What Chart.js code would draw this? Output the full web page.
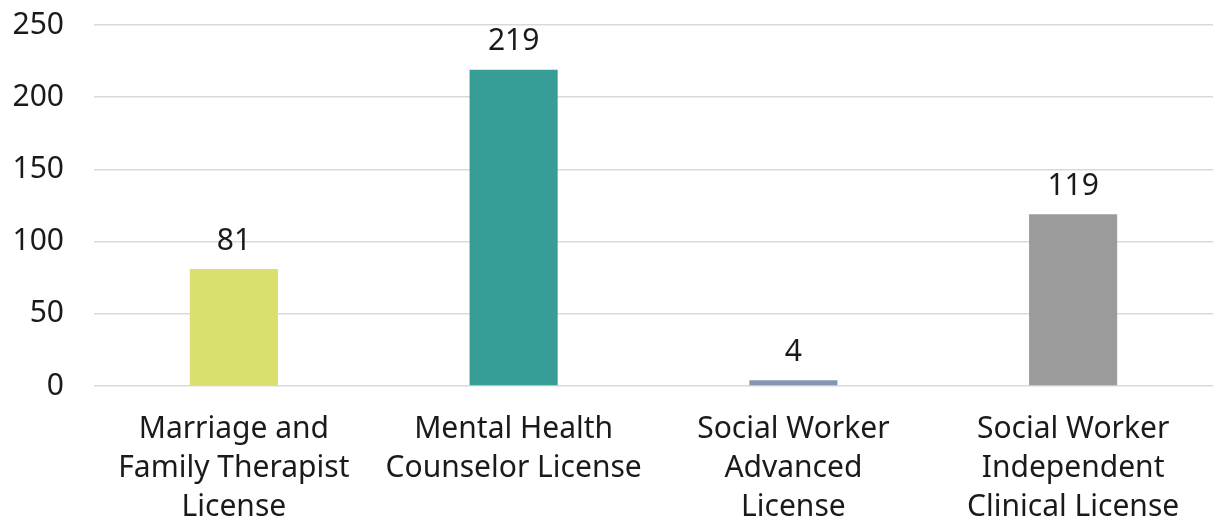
<!DOCTYPE html>
<html>
<head>
<meta charset="utf-8">
<script src="https://cdn.jsdelivr.net/npm/chart.js@4"></script>
<style>
  html, body { margin: 0; padding: 0; background: #fff; }
  #wrap { width: 1213px; height: 522px; }
</style>
</head>
<body>
<div id="wrap"><canvas id="grafico"></canvas></div>
<script>
const categorias = [
    ['Marriage and', 'Family Therapist', 'License'],
    ['Mental Health', 'Counselor License'],
    ['Social Worker', 'Advanced', 'License'],
    ['Social Worker', 'Independent', 'Clinical License']
];
const valores = [81, 219, 4, 119];
const cores = ['#D9E06E', '#369E96', '#8497B0', '#9B9B9B'];
const yTicks = [0, 50, 100, 150, 200, 250];

const fonte = 'Noto Sans';

// rótulos de valor acima das barras
const rotulos = {
    id: 'rotulos',
    afterDatasetsDraw(chart) {
        const ctx = chart.ctx;
        const meta = chart.getDatasetMeta(0);
        ctx.save();
        ctx.font = '30px "' + fonte + '"';
        ctx.fillStyle = '#1a1a1a';
        ctx.textAlign = 'center';
        ctx.textBaseline = 'middle';
        meta.data.forEach((bar, i) => {
            ctx.fillText(String(valores[i]), bar.x, bar.y - 28);
        });
        ctx.restore();
    }
};

new Chart(document.getElementById('grafico'), {
    type: 'bar',
    data: {
        labels: categorias,
        datasets: [{
            data: valores,
            backgroundColor: cores,
            barPercentage: 0.315,
            categoryPercentage: 1
        }]
    },
    options: {
        responsive: true,
        maintainAspectRatio: false,
        animation: false,
        layout: { padding: { top: 25, right: 0, bottom: 0, left: 12 } },
        plugins: { legend: { display: false }, tooltip: { enabled: false } },
        scales: {
            x: {
                afterFit: axis => {
                    axis.height = 136;
                    axis.paddingLeft = 0;
                    axis.paddingRight = 0;
                },
                grid: { display: false, drawTicks: false },
                border: { display: false },
                ticks: {
                    color: '#1a1a1a',
                    font: { family: fonte, size: 30, lineHeight: 1.3 },
                    maxRotation: 0,
                    autoSkip: false,
                    padding: 24
                }
            },
            y: {
                min: 0,
                max: 250,
                afterBuildTicks: axis => { axis.ticks = yTicks.map(v => ({ value: v })); },
                afterFit: axis => {
                    axis.width = 82;
                    axis.paddingTop = 0;
                    axis.paddingBottom = 0;
                },
                grid: { color: '#D9D9D9', lineWidth: 1.5, drawTicks: false },
                border: { display: false },
                ticks: {
                    color: '#1a1a1a',
                    font: { family: fonte, size: 30 },
                    padding: 30
                }
            }
        }
    },
    plugins: [rotulos]
});
</script>
</body>
</html>
